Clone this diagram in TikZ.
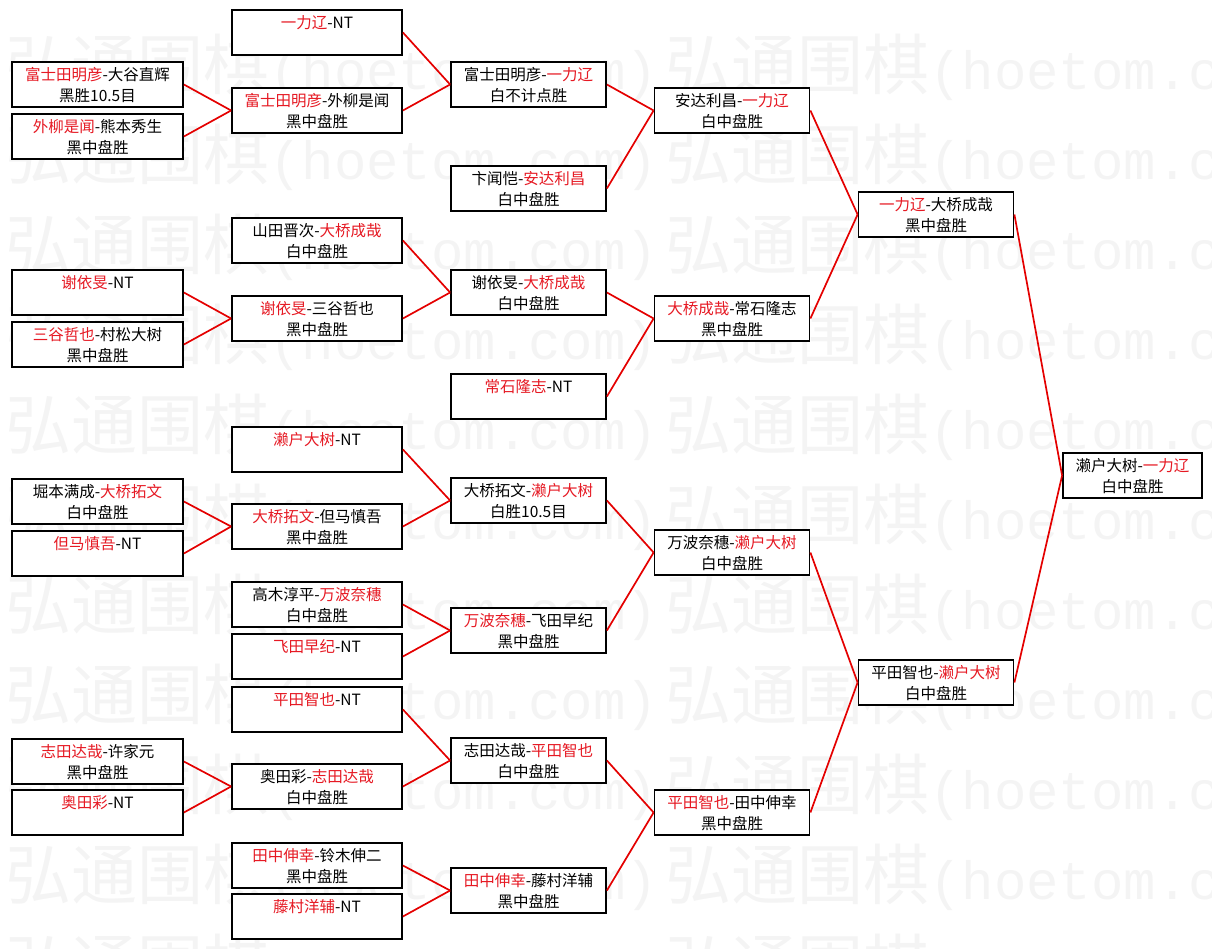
\documentclass[tikz,border=0pt]{standalone}
\usepackage{fontspec}
\setmainfont{Noto Sans CJK SC}
\newfontfamily\markfont{Liberation Mono}
\usetikzlibrary{positioning}
\definecolor{winred}{RGB}{230,25,35}
\definecolor{linered}{RGB}{228,0,0}
\definecolor{markgray}{RGB}{244,244,244}
\newcommand{\winner}[1]{\textcolor{winred}{#1}}
\tikzstyle{gamebox}=[rectangle, draw=black, fill=white, line width=1.8pt, minimum height=45pt, inner sep=0pt, align=center, font=\fontsize{15.5}{21}\selectfont, text depth=-9pt]
\tikzstyle{firstbox}=[gamebox, minimum width=171pt]
\tikzstyle{secondbox}=[gamebox, minimum width=170pt]
\tikzstyle{laterbox}=[gamebox, minimum width=155pt]
\tikzstyle{finalbox}=[gamebox, minimum width=139pt]
\tikzstyle{bracket}=[draw=linered, line width=1.7pt]
\tikzstyle{watermark}=[anchor=west, inner sep=0pt, text=markgray]

\begin{document}
\begin{tikzpicture}[x=1pt,y=-1pt]
\useasboundingbox (0,0) rectangle (1212,949);
\clip (0,0) rectangle (1212,949);
%Watermark
\foreach \i in {0,...,10}{
  \node[watermark] (markl\i) at (5,{67+90*\i}) {\fontsize{66}{66}\selectfont 弘通围棋{\markfont\fontsize{54}{54}\selectfont(hoetom.com)}};
  \node[watermark] (markr\i) at (665,{67+90*\i}) {\fontsize{66}{66}\selectfont 弘通围棋{\markfont\fontsize{54}{54}\selectfont(hoetom.com)}};
}
%Nodes
\node[firstbox]  (a1)  at (97.5,84.5)   {\winner{富士田明彦}-大谷直辉\\黑胜10.5目};
\node[firstbox]  (a2)  at (97.5,136.5)  {\winner{外柳是闻}-熊本秀生\\黑中盘胜};
\node[firstbox]  (a3)  at (97.5,292.5)  {\winner{谢依旻}-NT\\\phantom{黑}};
\node[firstbox]  (a4)  at (97.5,344.5)  {\winner{三谷哲也}-村松大树\\黑中盘胜};
\node[firstbox]  (a5)  at (97.5,501.5)  {堀本满成-\winner{大桥拓文}\\白中盘胜};
\node[firstbox]  (a6)  at (97.5,553.5)  {\winner{但马慎吾}-NT\\\phantom{黑}};
\node[firstbox]  (a7)  at (97.5,761.5)  {\winner{志田达哉}-许家元\\黑中盘胜};
\node[firstbox]  (a8)  at (97.5,812.5)  {\winner{奥田彩}-NT\\\phantom{黑}};

\node[secondbox] (b1)  at (317,32.5)    {\winner{一力辽}-NT\\\phantom{黑}};
\node[secondbox] (b2)  at (317,110.5)   {\winner{富士田明彦}-外柳是闻\\黑中盘胜};
\node[secondbox] (b3)  at (317,240.5)   {山田晋次-\winner{大桥成哉}\\白中盘胜};
\node[secondbox] (b4)  at (317,318.5)   {\winner{谢依旻}-三谷哲也\\黑中盘胜};
\node[secondbox] (b5)  at (317,449.5)   {\winner{濑户大树}-NT\\\phantom{黑}};
\node[secondbox] (b6)  at (317,526.5)   {\winner{大桥拓文}-但马慎吾\\黑中盘胜};
\node[secondbox] (b7)  at (317,604.5)   {高木淳平-\winner{万波奈穗}\\白中盘胜};
\node[secondbox] (b8)  at (317,656.5)   {\winner{飞田早纪}-NT\\\phantom{黑}};
\node[secondbox] (b9)  at (317,709.5)   {\winner{平田智也}-NT\\\phantom{黑}};
\node[secondbox] (b10) at (317,786.5)   {奥田彩-\winner{志田达哉}\\白中盘胜};
\node[secondbox] (b11) at (317,865.5)   {\winner{田中伸幸}-铃木伸二\\黑中盘胜};
\node[secondbox] (b12) at (317,916.5)   {\winner{藤村洋辅}-NT\\\phantom{黑}};

\node[laterbox]  (c1)  at (528.5,84.5)  {富士田明彦-\winner{一力辽}\\白不计点胜};
\node[laterbox]  (c2)  at (528.5,188.5) {卞闻恺-\winner{安达利昌}\\白中盘胜};
\node[laterbox]  (c3)  at (528.5,292.5) {谢依旻-\winner{大桥成哉}\\白中盘胜};
\node[laterbox]  (c4)  at (528.5,396.5) {\winner{常石隆志}-NT\\\phantom{黑}};
\node[laterbox]  (c5)  at (528.5,500.5) {大桥拓文-\winner{濑户大树}\\白胜10.5目};
\node[laterbox]  (c6)  at (528.5,630.5) {\winner{万波奈穗}-飞田早纪\\黑中盘胜};
\node[laterbox]  (c7)  at (528.5,760.5) {志田达哉-\winner{平田智也}\\白中盘胜};
\node[laterbox]  (c8)  at (528.5,890.5) {\winner{田中伸幸}-藤村洋辅\\黑中盘胜};

\node[laterbox]  (d1)  at (732,110.5)   {安达利昌-\winner{一力辽}\\白中盘胜};
\node[laterbox]  (d2)  at (732,318.5)   {\winner{大桥成哉}-常石隆志\\黑中盘胜};
\node[laterbox]  (d3)  at (732,552.5)   {万波奈穗-\winner{濑户大树}\\白中盘胜};
\node[laterbox]  (d4)  at (732,812.5)   {\winner{平田智也}-田中伸幸\\黑中盘胜};

\node[laterbox]  (e1)  at (936,214.5)   {\winner{一力辽}-大桥成哉\\黑中盘胜};
\node[laterbox]  (e2)  at (936,682.5)   {平田智也-\winner{濑户大树}\\白中盘胜};

\node[finalbox]  (f1)  at (1132.5,475.5) {濑户大树-\winner{一力辽}\\白中盘胜};
%Lines
\draw[bracket] (a1.east) -- (b2.west);
\draw[bracket] (a2.east) -- (b2.west);
\draw[bracket] (a3.east) -- (b4.west);
\draw[bracket] (a4.east) -- (b4.west);
\draw[bracket] (a5.east) -- (b6.west);
\draw[bracket] (a6.east) -- (b6.west);
\draw[bracket] (a7.east) -- (b10.west);
\draw[bracket] (a8.east) -- (b10.west);

\draw[bracket] (b1.east) -- (c1.west);
\draw[bracket] (b2.east) -- (c1.west);
\draw[bracket] (b3.east) -- (c3.west);
\draw[bracket] (b4.east) -- (c3.west);
\draw[bracket] (b5.east) -- (c5.west);
\draw[bracket] (b6.east) -- (c5.west);
\draw[bracket] (b7.east) -- (c6.west);
\draw[bracket] (b8.east) -- (c6.west);
\draw[bracket] (b9.east) -- (c7.west);
\draw[bracket] (b10.east) -- (c7.west);
\draw[bracket] (b11.east) -- (c8.west);
\draw[bracket] (b12.east) -- (c8.west);

\draw[bracket] (c1.east) -- (d1.west);
\draw[bracket] (c2.east) -- (d1.west);
\draw[bracket] (c3.east) -- (d2.west);
\draw[bracket] (c4.east) -- (d2.west);
\draw[bracket] (c5.east) -- (d3.west);
\draw[bracket] (c6.east) -- (d3.west);
\draw[bracket] (c7.east) -- (d4.west);
\draw[bracket] (c8.east) -- (d4.west);

\draw[bracket] (d1.east) -- (e1.west);
\draw[bracket] (d2.east) -- (e1.west);
\draw[bracket] (d3.east) -- (e2.west);
\draw[bracket] (d4.east) -- (e2.west);

\draw[bracket] (e1.east) -- (f1.west);
\draw[bracket] (e2.east) -- (f1.west);
\end{tikzpicture}
\end{document}
